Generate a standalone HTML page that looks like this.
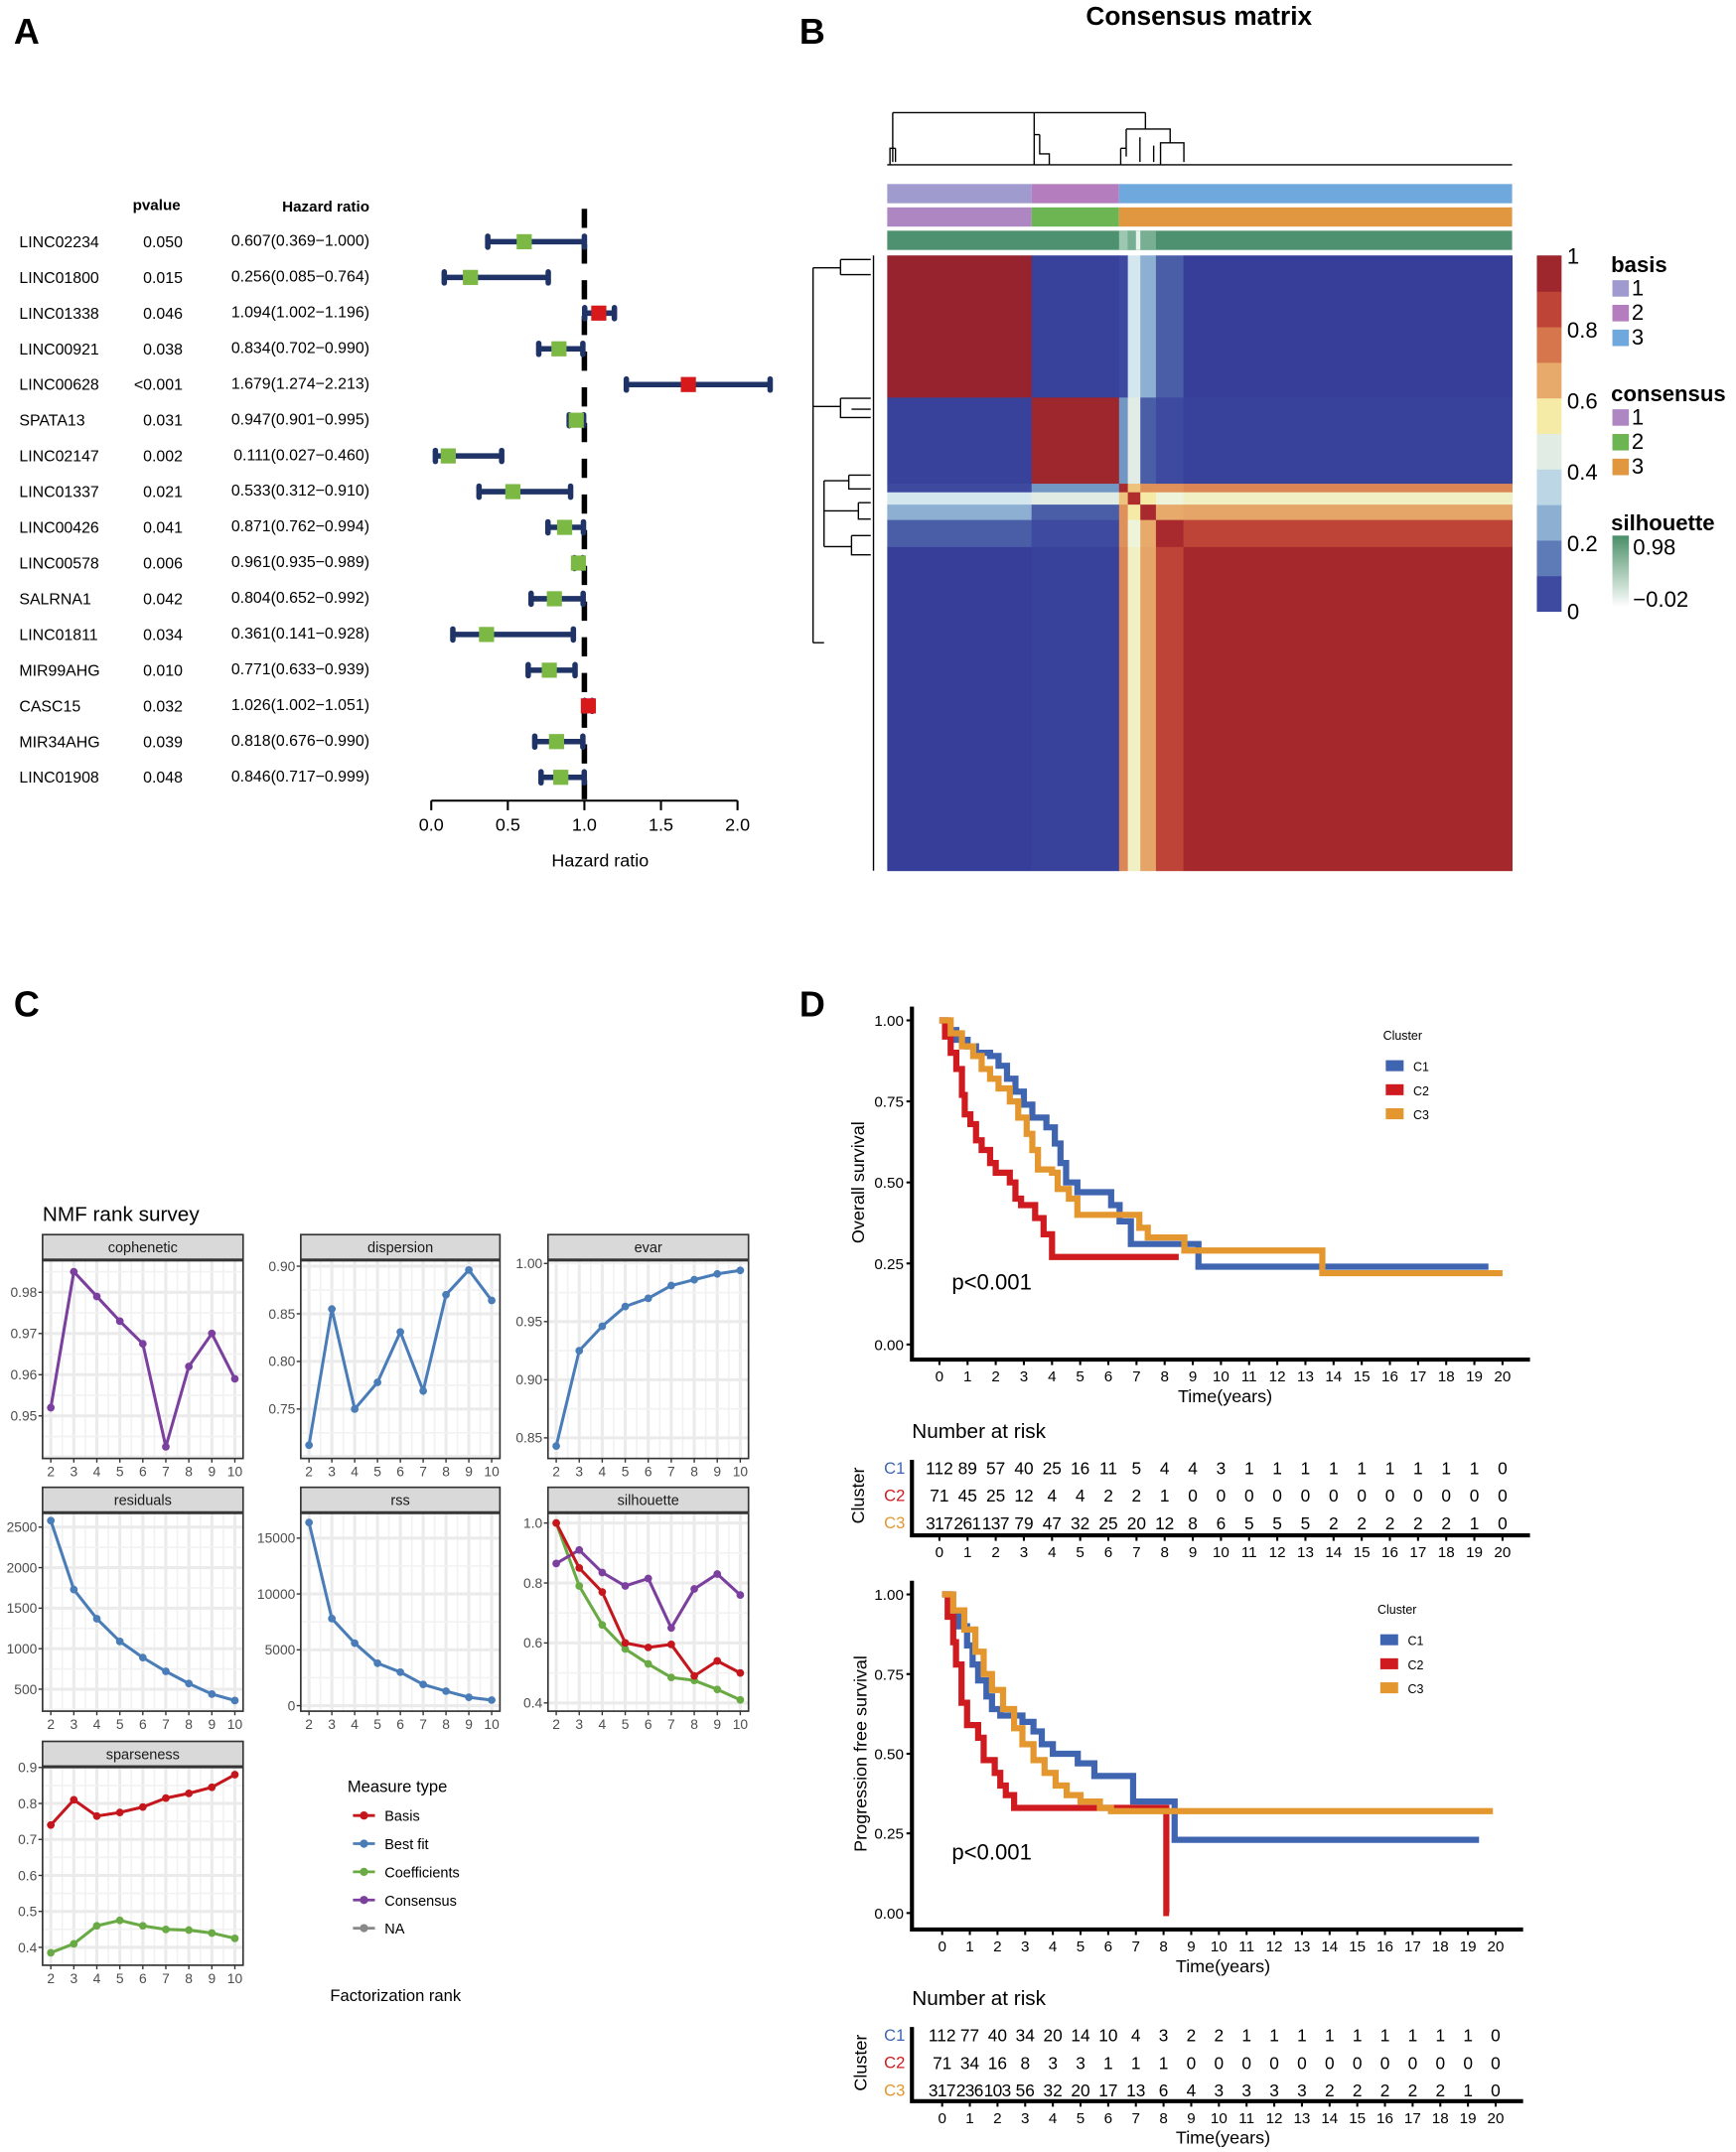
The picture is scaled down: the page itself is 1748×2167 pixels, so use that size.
<!DOCTYPE html>
<html><head><meta charset="utf-8"><title>Figure</title>
<style>
html,body{margin:0;padding:0;background:#fff;}
svg{display:block;font-family:"Liberation Sans",Arial,sans-serif;}
</style></head>
<body>
<svg id="fig" width="1748" height="2167" viewBox="0 0 1264 1567" preserveAspectRatio="none" xmlns="http://www.w3.org/2000/svg">
<rect x="0" y="0" width="1264" height="1567" fill="#fff"/>
<text x="10" y="32" font-size="26" font-weight="bold">A</text>
<text x="582" y="32" font-size="26" font-weight="bold">B</text>
<text x="10" y="740" font-size="26" font-weight="bold">C</text>
<text x="582" y="740" font-size="26" font-weight="bold">D</text>
</svg>
<script>
// ---------- Panel A data ----------
const genes = ["LINC02234","LINC01800","LINC01338","LINC00921","LINC00628","SPATA13","LINC02147","LINC01337","LINC00426","LINC00578","SALRNA1","LINC01811","MIR99AHG","CASC15","MIR34AHG","LINC01908"];
const pvals = ["0.050","0.015","0.046","0.038","<0.001","0.031","0.002","0.021","0.041","0.006","0.042","0.034","0.010","0.032","0.039","0.048"];
const hrEst = [0.607,0.256,1.094,0.834,1.679,0.947,0.111,0.533,0.871,0.961,0.804,0.361,0.771,1.026,0.818,0.846];
const hrLo = [0.369,0.085,1.002,0.702,1.274,0.901,0.027,0.312,0.762,0.935,0.652,0.141,0.633,1.002,0.676,0.717];
const hrHi = [1.000,0.764,1.196,0.990,2.213,0.995,0.460,0.910,0.994,0.989,0.992,0.928,0.939,1.051,0.990,0.999];
const hrTicks = [0,0.5,1,1.5,2];

// ---------- Panel B data ----------
const groupBounds = [0,0.231,0.371,0.385,0.405,0.43,0.474,1];
const groupNames = ["g1","g2","t1","t2","t3","t4","g3"];
const consensusVals = [
 [0.97,0.03,0.05,0.40,0.25,0.10,0.02],
 [0.03,0.95,0.20,0.45,0.10,0.05,0.03],
 [0.05,0.20,0.92,0.60,0.70,0.70,0.72],
 [0.40,0.45,0.60,0.90,0.55,0.50,0.52],
 [0.25,0.10,0.70,0.55,0.92,0.65,0.66],
 [0.10,0.05,0.70,0.50,0.65,0.92,0.85],
 [0.02,0.03,0.72,0.52,0.66,0.85,0.93]];
const colorbarTicks = [0,0.2,0.4,0.6,0.8,1];

// ---------- Panel C data ----------
const ranks = [2,3,4,5,6,7,8,9,10];
const cophenetic = [0.952,0.985,0.979,0.973,0.9675,0.9425,0.962,0.970,0.959];
const dispersion = [0.712,0.855,0.750,0.778,0.831,0.769,0.870,0.896,0.864];
const evar = [0.843,0.925,0.946,0.963,0.970,0.981,0.986,0.991,0.994];
const residuals = [2580,1730,1370,1090,890,720,570,440,360];
const rss = [16400,7800,5600,3800,3000,1900,1300,750,500];
const silBasis = [1.0,0.85,0.77,0.60,0.585,0.595,0.49,0.54,0.50];
const silCoef = [1.0,0.79,0.66,0.58,0.53,0.485,0.475,0.445,0.41];
const silConsensus = [0.865,0.91,0.835,0.79,0.815,0.65,0.78,0.83,0.76];
const sparseBasis = [0.74,0.81,0.765,0.775,0.79,0.815,0.828,0.845,0.88];
const sparseCoef = [0.385,0.41,0.46,0.475,0.46,0.45,0.448,0.44,0.425];
const copheneticTicks = [0.95,0.96,0.97,0.98];
const dispersionTicks = [0.75,0.80,0.85,0.90];
const evarTicks = [0.85,0.90,0.95,1.00];
const residualTicks = [500,1000,1500,2000,2500];
const rssTicks = [0,5000,10000,15000];
const silTicks = [0.4,0.6,0.8,1.0];
const sparseTicks = [0.4,0.5,0.6,0.7,0.8,0.9];

// ---------- Panel D data ----------
const kmTimes = [0,1,2,3,4,5,6,7,8,9,10,11,12,13,14,15,16,17,18,19,20];
const osC1 = [[0,1],[0.3,0.97],[0.6,0.94],[1,0.92],[1.3,0.9],[1.8,0.89],[2.1,0.86],[2.4,0.82],[2.7,0.78],[3,0.74],[3.3,0.7],[3.8,0.67],[4.1,0.62],[4.3,0.56],[4.5,0.5],[4.9,0.47],[6.1,0.43],[6.4,0.38],[6.8,0.31],[8.5,0.31],[9.2,0.24],[19.5,0.24]];
const osC2 = [[0,1],[0.2,0.95],[0.4,0.9],[0.6,0.85],[0.8,0.77],[0.9,0.71],[1.1,0.68],[1.3,0.63],[1.5,0.6],[1.8,0.56],[2,0.53],[2.5,0.5],[2.7,0.45],[2.9,0.43],[3.4,0.39],[3.7,0.34],[4,0.27],[8.5,0.27]];
const osC3 = [[0,1],[0.4,0.96],[0.8,0.92],[1.2,0.89],[1.5,0.85],[1.8,0.82],[2.1,0.79],[2.5,0.75],[2.8,0.7],[3.1,0.65],[3.3,0.6],[3.5,0.54],[4,0.53],[4.2,0.48],[4.6,0.45],[4.9,0.4],[7.1,0.36],[7.4,0.33],[8.7,0.29],[13.6,0.22],[20,0.22]];
const pfsC1 = [[0,1],[0.3,0.95],[0.6,0.9],[0.9,0.84],[1.1,0.78],[1.3,0.73],[1.6,0.68],[1.8,0.64],[2.1,0.62],[2.9,0.6],[3.3,0.57],[3.6,0.53],[4,0.5],[4.9,0.47],[5.5,0.43],[6.9,0.35],[8.4,0.23],[19.4,0.23]];
const pfsC2 = [[0,1],[0.2,0.93],[0.4,0.85],[0.5,0.78],[0.7,0.66],[0.9,0.59],[1.3,0.55],[1.5,0.48],[1.9,0.44],[2.1,0.4],[2.3,0.37],[2.6,0.33],[8.1,0.33],[8.1,0],[8.2,0]];
const pfsC3 = [[0,1],[0.4,0.95],[0.8,0.89],[1.2,0.82],[1.5,0.75],[1.8,0.7],[2.2,0.64],[2.6,0.58],[2.9,0.53],[3.3,0.48],[3.7,0.44],[4.1,0.4],[4.5,0.37],[5,0.35],[5.7,0.33],[6.1,0.32],[19.9,0.32]];
const osRiskC1 = [112,89,57,40,25,16,11,5,4,4,3,1,1,1,1,1,1,1,1,1,0];
const osRiskC2 = [71,45,25,12,4,4,2,2,1,0,0,0,0,0,0,0,0,0,0,0,0];
const osRiskC3 = [317,261,137,79,47,32,25,20,12,8,6,5,5,5,2,2,2,2,2,1,0];
const pfsRiskC1 = [112,77,40,34,20,14,10,4,3,2,2,1,1,1,1,1,1,1,1,1,0];
const pfsRiskC2 = [71,34,16,8,3,3,1,1,1,0,0,0,0,0,0,0,0,0,0,0,0];
const pfsRiskC3 = [317,236,103,56,32,20,17,13,6,4,3,3,3,3,2,2,2,2,2,1,0];
const kmTicks = [0,0.25,0.5,0.75,1];

const NS = "http://www.w3.org/2000/svg";
const svg = document.getElementById('fig');
function mk(tag, attrs, parent){
  const e = document.createElementNS(NS, tag);
  for (const k in attrs) e.setAttribute(k, attrs[k]);
  (parent||svg).appendChild(e);
  return e;
}
function txt(x,y,s,size,extra,parent){
  const e = mk('text', Object.assign({x:x,y:y,'font-size':size}, extra||{}), parent);
  e.textContent = s;
  return e;
}

// ================= Panel A: forest plot =================
(function(){
  const g = mk('g',{});
  
  
  const xs = v => 314 + v*111.5;
  const ys = i => 176 + i*26;
  let h = txt(114,153,'pvalue',11,{'font-weight':'bold','text-anchor':'middle'},g);
  
  
  h = txt(269,154,'Hazard ratio',11,{'font-weight':'bold','text-anchor':'end'},g);
  
  
  const ref = mk('line',{x1:xs(1),x2:xs(1),y1:152,y2:590,stroke:'#000','stroke-width':4,'stroke-dasharray':'14,12'},g);
  
  
  genes.forEach((gn,i)=>{
    const y = ys(i);
    let t = txt(14,y+4,gn,11.5,{},g);
    
    
    t = txt(133,y+4,pvals[i],11.5,{'text-anchor':'end'},g);
    
    
    t = txt(269,y+3,hrEst[i].toFixed(3)+'('+hrLo[i].toFixed(3)+'\u2212'+hrHi[i].toFixed(3)+')',11.5,{'text-anchor':'end'},g);
    
    
    const ci = mk('line',{x1:xs(hrLo[i]),x2:xs(hrHi[i]),y1:y,y2:y,stroke:'#1f3366','stroke-width':4},g);
    
    
    [hrLo[i],hrHi[i]].forEach(v=>{
      const c = mk('rect',{x:xs(v)-2,y:y-6,width:4,height:12,rx:2,fill:'#1f3366'},g);
      
      
    });
    const sq = mk('rect',{x:xs(hrEst[i])-5.5,y:y-5.5,width:11,height:11,fill:hrEst[i]>1?'#d7191c':'#7cb844'},g);
    
    
  });
  const ax = mk('line',{x1:xs(0),x2:xs(2),y1:583,y2:583,stroke:'#000','stroke-width':1.5},g);
  
  
  hrTicks.forEach(v=>{
    const tk = mk('line',{x1:xs(v),x2:xs(v),y1:583,y2:590,stroke:'#000','stroke-width':1.5},g);
    
    
    const tl = txt(xs(v),605,v.toFixed(1),13,{'text-anchor':'middle'},g);
    
    
  });
  const at = txt(437,631,'Hazard ratio',13,{'text-anchor':'middle'},g);
  
  
})();

// ================= Panel B: consensus heatmap =================
const cStops = [[0,'#313695'],[0.1,'#4a5ea8'],[0.2,'#7397c5'],[0.3,'#a4c6de'],[0.4,'#d4e6ee'],[0.5,'#eef4da'],[0.55,'#f5eaa6'],[0.6,'#eec47c'],[0.7,'#e0915a'],[0.8,'#cc5a40'],[0.9,'#b02d2e'],[1,'#8b1e2c']];
function hx(c){return [parseInt(c.substr(1,2),16),parseInt(c.substr(3,2),16),parseInt(c.substr(5,2),16)];}
function cmap(v){
  for(let i=1;i<cStops.length;i++){
    if(v<=cStops[i][0]){
      const a=cStops[i-1],b=cStops[i];const t=(v-a[0])/(b[0]-a[0]);
      const ca=hx(a[1]),cb=hx(b[1]);
      return 'rgb('+ca.map((x,k)=>Math.round(x+(cb[k]-x)*t)).join(',')+')';
    }
  }
  return cStops[cStops.length-1][1];
}
(function(){
  const g = mk('g',{});
  
  
  const X0=646,X1=1101,Y0=186,Y1=634;
  const hx_ = f => X0 + f*(X1-X0);
  const hy_ = f => Y0 + f*(Y1-Y0);
  const tt = txt(873,18,'Consensus matrix',19,{'font-weight':'bold','text-anchor':'middle'},g);
  
  
  for(let r=0;r<groupNames.length;r++){
    for(let c=0;c<groupNames.length;c++){
      const cell = mk('rect',{x:hx_(groupBounds[c]),y:hy_(groupBounds[r]),width:hx_(groupBounds[c+1])-hx_(groupBounds[c])+0.3,height:hy_(groupBounds[r+1])-hy_(groupBounds[r])+0.3,fill:cmap(consensusVals[r][c])},g);
      
      
    }
  }
  const basisCols = ['#9f9bcf','#b47dbd','#6fa8dc'];
  const consCols = ['#ad86c2','#6db553','#e0973f'];
  const annB = [[0,0.231,0],[0.231,0.371,1],[0.371,1,2]];
  annB.forEach(a=>{
    const r1 = mk('rect',{x:hx_(a[0]),y:134,width:hx_(a[1])-hx_(a[0]),height:14,fill:basisCols[a[2]]},g);
    
    
    const r2 = mk('rect',{x:hx_(a[0]),y:151,width:hx_(a[1])-hx_(a[0]),height:14,fill:consCols[a[2]]},g);
    
    
  });
  const sil = mk('rect',{x:X0,y:168,width:X1-X0,height:14,fill:'#4e9170'},g);
  
  
  [[0.371,0.385,'#9cc7b0'],[0.385,0.43,'#78ae92'],[0.398,0.405,'#e8f2ec']].forEach(a=>{
    const s = mk('rect',{x:hx_(a[0]),y:168,width:hx_(a[1])-hx_(a[0]),height:14,fill:a[2]},g);
    
    
  });
  const dg = 'M648,120 V108 H652 M650,108 V118 M652,108 V118 M650,82 V108 M650,82 H834 M753,82 V98 M753,98 H757 M753,98 V120 M757,98 V112 H764 V120 M834,82 V94 H820 M820,94 V108 H816 M816,108 V120 M820,108 V114 M834,94 H852 V104 M852,104 H845 V120 M852,104 H862 V118 M830,100 V118 M840,106 V118 M646,120 H1101'
   + ' M636,186 V634 M592,195 V468 M592,195 H612 M612,189 V200 M612,189 H634 M612,200 H634 M592,296 H612 M612,290 V304 H634 M612,290 H634 M620,298 H634 M592,468 H600 M600,350 V398 M600,350 H618 M600,398 H620 M618,346 V356 H634 M618,346 H634 M620,390 V404 H634 M620,390 H634 M600,372 H625 M625,366 V378 H634 M625,366 H634';
  const d = mk('path',{d:dg,stroke:'#000','stroke-width':1,fill:'none'},g);
  
  
  for(let i=0;i<10;i++){
    const cb = mk('rect',{x:1119,y:186+(9-i)*25.9,width:18,height:26.4,fill:cmap((i+0.5)/10)},g);
    
    
  }
  colorbarTicks.forEach(v=>{
    const lbl = txt(1141,186+(1-v)*259+(v===1?6:v===0?6:8),String(v),16,{},g);
    
    
  });
  const leg = (title,y,cols)=>{
    const t = txt(1173,y,title,16,{'font-weight':'bold'},g);
    
    
    cols.forEach((c,i)=>{
      const sw = mk('rect',{x:1174,y:y+6+i*18,width:12,height:12,fill:c},g);
      
      
      const lt = txt(1188,y+17+i*18,String(i+1),16,{},g);
      
      
    });
  };
  leg('basis',198,basisCols);
  leg('consensus',292,consCols);
  const st = txt(1173,386,'silhouette',16,{'font-weight':'bold'},g);
  
  
  const defs = mk('defs',{},g);
  const lg = mk('linearGradient',{id:'silg',x1:0,y1:0,x2:0,y2:1},defs);
  mk('stop',{offset:'0','stop-color':'#4a8f68'},lg);
  mk('stop',{offset:'1','stop-color':'#ffffff'},lg);
  const sg = mk('rect',{x:1174,y:390,width:12,height:52,fill:'url(#silg)'},g);
  
  
  let l1 = txt(1189,404,'0.98',16,{},g);
  
  
  l1 = txt(1189,442,'\u22120.02',16,{},g);
  
  
})();

// ================= Panel C: NMF rank survey =================
(function(){
  const g = mk('g',{});
  
  
  const t = txt(31,889,'NMF rank survey',15,{},g);
  
  
  const cols = [[31,177],[219,364],[399,545]];
  const rows = [[899,1062],[1083,1246],[1268,1431]];
  const panels = [
    {name:'cophenetic',c:0,r:0,v1:0.95,p1:1031,v2:0.98,p2:941,ticks:copheneticTicks,dec:2,series:[[cophenetic,'#7b3f9e']]},
    {name:'dispersion',c:1,r:0,v1:0.75,p1:1026,v2:0.90,p2:922,ticks:dispersionTicks,dec:2,series:[[dispersion,'#4a7db8']]},
    {name:'evar',c:2,r:0,v1:0.85,p1:1047,v2:1.00,p2:920,ticks:evarTicks,dec:2,series:[[evar,'#4a7db8']]},
    {name:'residuals',c:0,r:1,v1:500,p1:1230,v2:2500,p2:1112,ticks:residualTicks,dec:0,series:[[residuals,'#4a7db8']]},
    {name:'rss',c:1,r:1,v1:0,p1:1242,v2:15000,p2:1120,ticks:rssTicks,dec:0,series:[[rss,'#4a7db8']]},
    {name:'silhouette',c:2,r:1,v1:0.4,p1:1240,v2:1.0,p2:1109,ticks:silTicks,dec:1,series:[[silCoef,'#6aaa44'],[silConsensus,'#7b3f9e'],[silBasis,'#c4161c']]},
    {name:'sparseness',c:0,r:2,v1:0.4,p1:1418,v2:0.9,p2:1287,ticks:sparseTicks,dec:1,series:[[sparseBasis,'#c4161c'],[sparseCoef,'#6aaa44']]}
  ];
  panels.forEach(p=>{
    const [x0,x1] = cols[p.c]; const [s0,yb] = rows[p.r];
    const pg = mk('g',{},g);
    
    
    const yt = s0+19;
    const xs = k => x0+6 + (k-2)*((x1-x0-12)/8);
    const ys = v => p.p1 + (v-p.v1)*(p.p2-p.p1)/(p.v2-p.v1);
    mk('rect',{x:x0,y:yt,width:x1-x0,height:yb-yt,fill:'#fff'},pg);
    ranks.forEach(k=>{
      mk('line',{x1:xs(k),x2:xs(k),y1:yt,y2:yb,stroke:'#ebebeb','stroke-width':2.2},pg);
      if(k<10) mk('line',{x1:xs(k+0.5),x2:xs(k+0.5),y1:yt,y2:yb,stroke:'#f2f2f2','stroke-width':1.2},pg);
    });
    const step = p.ticks[1]-p.ticks[0];
    for(let v=p.ticks[0]-step*2; v<=p.ticks[p.ticks.length-1]+step*2; v+=step/2){
      const y = ys(v); if(y<yt||y>yb) continue;
      const major = Math.abs(((v-p.ticks[0])/step)%1)<1e-6;
      mk('line',{x1:x0,x2:x1,y1:y,y2:y,stroke:major?'#ebebeb':'#f2f2f2','stroke-width':major?2.2:1.2},pg);
    }
    mk('rect',{x:x0,y:yt,width:x1-x0,height:yb-yt,fill:'none',stroke:'#333','stroke-width':1.2},pg);
    const strip = mk('rect',{x:x0,y:s0,width:x1-x0,height:18,fill:'#d9d9d9',stroke:'#333','stroke-width':1.2},pg);
    
    
    const stx = txt((x0+x1)/2,s0+13,p.name,10.5,{'text-anchor':'middle',fill:'#1a1a1a'},pg);
    
    
    ranks.forEach(k=>{
      mk('line',{x1:xs(k),x2:xs(k),y1:yb,y2:yb+3,stroke:'#333'},pg);
      const l = txt(xs(k),yb+13,String(k),10,{'text-anchor':'middle',fill:'#4d4d4d'},pg);
      
      
    });
    p.ticks.forEach(v=>{
      mk('line',{x1:x0-3,x2:x0,y1:ys(v),y2:ys(v),stroke:'#333'},pg);
      const l = txt(x0-4,ys(v)+3.5,v.toFixed(p.dec),10,{'text-anchor':'end',fill:'#4d4d4d'},pg);
      
      
    });
    p.series.forEach(([vals,col])=>{
      const line = mk('polyline',{points:vals.map((v,i)=>xs(ranks[i])+','+ys(v)).join(' '),fill:'none',stroke:col,'stroke-width':2.2},pg);
      
      
      vals.forEach((v,i)=>{
        const pt = mk('circle',{cx:xs(ranks[i]),cy:ys(v),r:2.8,fill:col},pg);
        
        
      });
    });
  });
  const lt = txt(253,1305,'Measure type',12,{},g);
  
  
  const legItems = [['Basis','#c4161c'],['Best fit','#4a7db8'],['Coefficients','#6aaa44'],['Consensus','#7b3f9e'],['NA','#888']];
  legItems.forEach((it,i)=>{
    const y = 1322+i*20.5;
    mk('line',{x1:257,x2:273,y1:y,y2:y,stroke:it[1],'stroke-width':2},g);
    mk('circle',{cx:265,cy:y,r:3,fill:it[1]},g);
    const e = txt(280,y+4,it[0],10.5,{},g);
    
    
  });
  const xt = txt(288,1457,'Factorization rank',12,{'text-anchor':'middle'},g);
  
  
})();

// ================= Panel D: KM curves =================
const kmColors = ['#3f64b0','#cf1b1f','#e4962f'];
function kmPlot(cfg){
  const g = mk('g',{});
  
  
  const xs = t => cfg.x0 + t*(cfg.x20-cfg.x0)/20;
  const ys = v => cfg.y0 + v*(cfg.y1-cfg.y0);
  cfg.curves.forEach((c,ci)=>{
    let d = 'M'+xs(c[0][0])+','+ys(c[0][1]);
    for(let i=1;i<c.length;i++){ d += ' H'+xs(c[i][0])+' V'+ys(c[i][1]); }
    const p = mk('path',{d:d,fill:'none',stroke:kmColors[ci],'stroke-width':4.5,'stroke-linejoin':'miter'},g);
    
    
  });
  const ax = mk('path',{d:'M'+cfg.axX+','+(ys(1)-10)+' V'+cfg.axY+' H'+(cfg.x20+20),fill:'none',stroke:'#000','stroke-width':3},g);
  
  
  kmTicks.forEach(v=>{
    mk('line',{x1:cfg.axX-4,x2:cfg.axX,y1:ys(v),y2:ys(v),stroke:'#000','stroke-width':1.5},g);
    const l = txt(cfg.axX-6,ys(v)+4,v.toFixed(2),11,{'text-anchor':'end'},g);
    
    
  });
  kmTimes.forEach(t=>{
    mk('line',{x1:xs(t),x2:xs(t),y1:cfg.axY,y2:cfg.axY+4,stroke:'#000','stroke-width':1.5},g);
    const l = txt(xs(t),cfg.axY+16,String(t),11,{'text-anchor':'middle'},g);
    
    
  });
  const xt = txt((cfg.x0+cfg.x20)/2+3,cfg.axY+31,'Time(years)',13,{'text-anchor':'middle'},g);
  
  
  const yt = txt(0,0,cfg.ylab,13,{'text-anchor':'middle',transform:'translate('+cfg.ylx+','+(ys(0.5))+') rotate(-90)'},g);
  
  
  const pv = txt(693,cfg.pY,'p<0.001',16,{},g);
  
  
  const lgt = txt(cfg.legX,cfg.legY,'Cluster',9,{},g);
  
  
  ['C1','C2','C3'].forEach((n,i)=>{
    const y = cfg.legY+19+i*17.5;
    mk('rect',{x:cfg.legX+2,y:y-4,width:13,height:8,fill:kmColors[i]},g);
    const e = txt(cfg.legX+22,y+4,n,9,{},g);
    
    
  });
  const rt = txt(cfg.axX,cfg.rtY,'Number at risk',15,{},g);
  
  
  const rax = mk('path',{d:'M'+cfg.axX+','+(cfg.rtY+16)+' V'+cfg.rtAx+' H'+(cfg.x20+20),fill:'none',stroke:'#000','stroke-width':3},g);
  
  
  cfg.risk.forEach((row,ri)=>{
    const y = cfg.rtY+22+ri*20;
    const lab = txt(cfg.axX-5,y+4,'C'+(ri+1),12,{'text-anchor':'end',fill:kmColors[ri]},g);
    
    
    row.forEach((n,ti)=>{
      const c = txt(xs(kmTimes[ti]),y+4.5,String(n),12.5,{'text-anchor':'middle','textLength':String(n).length>2?20:null},g);
      if(String(n).length<=2) c.removeAttribute('textLength');
      
      
    });
  });
  kmTimes.forEach(t=>{
    mk('line',{x1:xs(t),x2:xs(t),y1:cfg.rtAx,y2:cfg.rtAx+4,stroke:'#000','stroke-width':1.5},g);
    const l = txt(xs(t),cfg.rtAx+16,String(t),11,{'text-anchor':'middle'},g);
    
    
  });
  if(cfg.rtTitle){
    const l = txt((cfg.x0+cfg.x20)/2+3,cfg.rtAx+31,'Time(years)',13,{'text-anchor':'middle'},g);
    
    
  }
  const cl = txt(0,0,'Cluster',13,{'text-anchor':'middle',transform:'translate('+cfg.ylx+','+(cfg.rtY+42)+') rotate(-90)'},g);
  
  
}
kmPlot({name:'overall-survival-plot',x0:684,x20:1094,y0:979,y1:743,axX:664,axY:990,ylab:'Overall survival',ylx:629,pY:939,legX:1007,legY:757,
  curves:[osC1,osC2,osC3],risk:[osRiskC1,osRiskC2,osRiskC3],rtY:1047,rtAx:1118,rtTitle:false});
kmPlot({name:'progression-free-survival-plot',x0:686,x20:1089,y0:1393,y1:1161,axX:664,axY:1405,ylab:'Progression free survival',ylx:631,pY:1354,legX:1003,legY:1175,
  curves:[pfsC1,pfsC2,pfsC3],risk:[pfsRiskC1,pfsRiskC2,pfsRiskC3],rtY:1460,rtAx:1530,rtTitle:true});
</script>
</body></html>
